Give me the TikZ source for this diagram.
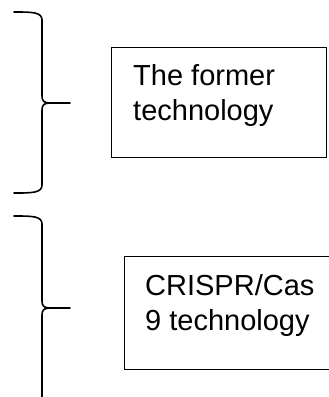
\documentclass[tikz,border=0pt]{standalone}
\usepackage{fontspec}
\setmainfont{Liberation Sans}

\begin{document}
\begin{tikzpicture}[x=1pt, y=-1pt,
    brace/.style={line width=1.6pt, line cap=round, line join=round},
    box/.style={draw, line width=0.9pt, rectangle, anchor=north west, inner sep=0pt},
    boxtext/.style={anchor=north west, inner sep=0pt, align=left, font=\fontsize{29}{35}\selectfont}]
    \useasboundingbox (0,0) rectangle (329,397);

    % upper brace
    \draw[brace] (14,12) .. controls (32,12) and (42,12) .. (42,20) -- (42,96)
        .. controls (42,101) and (44,103) .. (50,103) -- (70,103);
    \draw[brace] (50,103) .. controls (44,103) and (42,105) .. (42,110) -- (42,185)
        .. controls (42,193) and (32,193) .. (14,193);

    % lower brace
    \draw[brace] (14,216) .. controls (32,216) and (42,216) .. (42,224) -- (42,301)
        .. controls (42,306) and (44,308) .. (50,308) -- (70,308);
    \draw[brace] (50,308) .. controls (44,308) and (42,310) .. (42,315) -- (42,405);

    \node[box, minimum width=215pt, minimum height=110pt] (former) at (111,47) {};
    \node[boxtext] (formertext) at (133,64) {The former\\technology};

    \node[box, minimum width=215pt, minimum height=113pt] (crispr) at (124,256) {};
    \node[boxtext] (crisprtext) at (145,274) {CRISPR/Cas\\9 technology};
\end{tikzpicture}
\end{document}
